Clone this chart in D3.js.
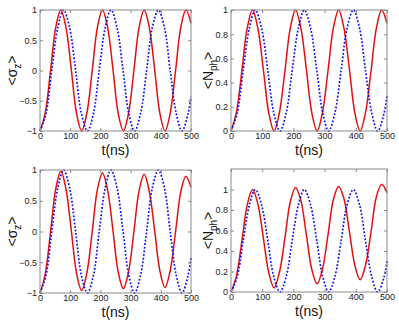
<!DOCTYPE html>
<html>
<head>
<meta charset="utf-8">
<script src="https://cdn.jsdelivr.net/npm/d3@7"></script>
<style>
  body { margin: 0; background: #fff; }
  svg { display: block; font-family: "Liberation Sans", Arial, sans-serif; }
</style>
</head>
<body>
<div id="chart"></div>
<script>
// time samples (ns) for each curve
const tRed = [0,17,35,52,69,86,104,121,138,155,173,190,207,224,242,259,276,293,311,328,345,362,380,397,414,431,449,466,483,500];
const tBlue = [0,20,39,59,78,98,118,137,157,177,196,216,235,255,275,294,313,333,353,372,392,412,431,451,470,490,500];

// top-left: <sigma_z>
const szRedA = [-1,-0.71,0,0.71,1,0.71,0,-0.71,-1,-0.71,0,0.71,1,0.71,0,-0.71,-1,-0.71,0,0.71,1,0.71,0,-0.71,-1,-0.71,0,0.71,1,0.78];
const szBlueA = [-1,-0.71,0,0.71,1,0.71,0,-0.71,-1,-0.71,0,0.71,1,0.71,0,-0.71,-1,-0.71,0,0.71,1,0.71,0,-0.71,-1,-0.72,-0.43];
// top-right: <N_ph>
const nRedA = [0,0.15,0.5,0.85,1,0.85,0.5,0.15,0,0.15,0.5,0.85,1,0.85,0.5,0.15,0,0.15,0.5,0.85,1,0.85,0.5,0.15,0,0.15,0.5,0.85,1,0.89];
const nBlueA = [0,0.15,0.5,0.85,1,0.85,0.5,0.15,0,0.15,0.5,0.85,1,0.85,0.5,0.15,0,0.15,0.5,0.85,1,0.85,0.5,0.15,0,0.14,0.29];
// bottom-left: <sigma_z>, damped red
const szRedB = [-1,-0.7,0,0.69,0.98,0.69,0,-0.68,-0.96,-0.68,0,0.68,0.95,0.67,0,-0.66,-0.93,-0.66,0,0.66,0.93,0.65,0,-0.64,-0.91,-0.64,0,0.64,0.9,0.72];
const szBlueB = [-1,-0.71,0,0.71,1,0.71,0,-0.71,-1,-0.71,0,0.71,1,0.71,0,-0.71,-1,-0.71,0,0.71,1,0.71,0,-0.71,-1,-0.72,-0.43];
// bottom-right: <N_ph>, rising red
const nRedB = [0,0.15,0.5,0.85,1.0,0.86,0.52,0.19,0.04,0.19,0.53,0.88,1.02,0.89,0.55,0.22,0.08,0.22,0.56,0.9,1.03,0.91,0.58,0.26,0.12,0.26,0.59,0.93,1.05,0.97];
const nBlueB = [0,0.15,0.5,0.85,1,0.85,0.5,0.15,0,0.15,0.5,0.85,1,0.85,0.5,0.15,0,0.15,0.5,0.85,1,0.85,0.5,0.15,0,0.14,0.3];

const xTicks = [0,100,200,300,400,500];
const szTicks = [-1,-0.5,0,0.5,1];
const nTicks = [0,0.2,0.4,0.6,0.8,1];

const width = 399, height = 321;
const svg = d3.select("#chart").append("svg")
  .attr("width", width)
  .attr("height", height);

const panels = [
  {x0: 40, x1: 191, y0: 10, y1: 131, yDom: [-1, 1], yTicks: szTicks, lab: "σ", sub: "z", labX: 12, red: szRedA, blue: szBlueA},
  {x0: 231, x1: 387, y0: 10, y1: 131, yDom: [0, 1], yTicks: nTicks, lab: "N", sub: "ph", labX: 208, red: nRedA, blue: nBlueA},
  {x0: 40, x1: 191, y0: 170, y1: 293, yDom: [-1, 1], yTicks: szTicks, lab: "σ", sub: "z", labX: 12, red: szRedB, blue: szBlueB},
  {x0: 231, x1: 387, y0: 169, y1: 292, yDom: [0, 1.2], yTicks: nTicks, lab: "N", sub: "ph", labX: 208, red: nRedB, blue: nBlueB}
];

const fmt = d => (d < 0 ? "\u2212" + Math.abs(d) : String(d));

panels.forEach(p => {
  const x = d3.scaleLinear().domain([0, 500]).range([p.x0, p.x1]);
  const y = d3.scaleLinear().domain(p.yDom).range([p.y1, p.y0]);
  const g = svg.append("g");

  // curves
  const line = d3.line().x(d => x(d[0])).y(d => y(d[1])).curve(d3.curveCatmullRom);
  g.append("path")
    .datum(tRed.map((t, i) => [t, p.red[i]]))
    .attr("d", line)
    .attr("fill", "none")
    .attr("stroke", "#e01010")
    .attr("stroke-width", 1.5);
  g.append("path")
    .datum(tBlue.map((t, i) => [t, p.blue[i]]))
    .attr("d", line)
    .attr("fill", "none")
    .attr("stroke", "#1010f0")
    .attr("stroke-width", 1.7)
    .attr("stroke-dasharray", "1.8,1.8");

  // axes, ticks pointing inward
  g.append("g")
    .attr("transform", `translate(0,${p.y1})`)
    .call(d3.axisBottom(x).tickValues(xTicks).tickSizeInner(-3).tickSizeOuter(0).tickPadding(2))
    .call(a => a.select(".domain").remove());
  g.append("g")
    .attr("transform", `translate(0,${p.y0})`)
    .call(d3.axisTop(x).tickValues(xTicks).tickSizeInner(-3).tickSizeOuter(0).tickFormat(""))
    .call(a => a.select(".domain").remove());
  g.append("g")
    .attr("transform", `translate(${p.x0},0)`)
    .call(d3.axisLeft(y).tickValues(p.yTicks).tickSizeInner(-3).tickSizeOuter(0).tickPadding(3).tickFormat(fmt))
    .call(a => a.select(".domain").remove());
  g.append("g")
    .attr("transform", `translate(${p.x1},0)`)
    .call(d3.axisRight(y).tickValues(p.yTicks).tickSizeInner(-3).tickSizeOuter(0).tickFormat(""))
    .call(a => a.select(".domain").remove());

  g.selectAll(".tick line").attr("stroke", "#888");
  g.selectAll(".tick text").attr("fill", "#222").style("font-size", "9px").style("font-family", "Liberation Sans, Arial, sans-serif");

  // frame
  g.append("rect")
    .attr("x", p.x0).attr("y", p.y0)
    .attr("width", p.x1 - p.x0).attr("height", p.y1 - p.y0)
    .attr("fill", "none")
    .attr("stroke", "#8a8a8a")
    .attr("stroke-width", 1);

  // x label
  g.append("text")
    .attr("x", (p.x0 + p.x1) / 2)
    .attr("y", p.y1 + 24)
    .attr("text-anchor", "middle")
    .style("font-size", "14px")
    .attr("fill", "#111")
    .text("t(ns)");

  // y label
  const yl = g.append("text")
    .attr("transform", `translate(${p.labX},${(p.y0 + p.y1) / 2}) rotate(-90)`)
    .attr("text-anchor", "middle")
    .attr("dy", "0.35em")
    .style("font-size", "14px")
    .attr("fill", "#111");
  yl.append("tspan").text("<" + p.lab);
  yl.append("tspan").attr("dy", 4).style("font-size", "10px").text(p.sub);
  yl.append("tspan").attr("dy", -4).text(">");
});
</script>
</body>
</html>
